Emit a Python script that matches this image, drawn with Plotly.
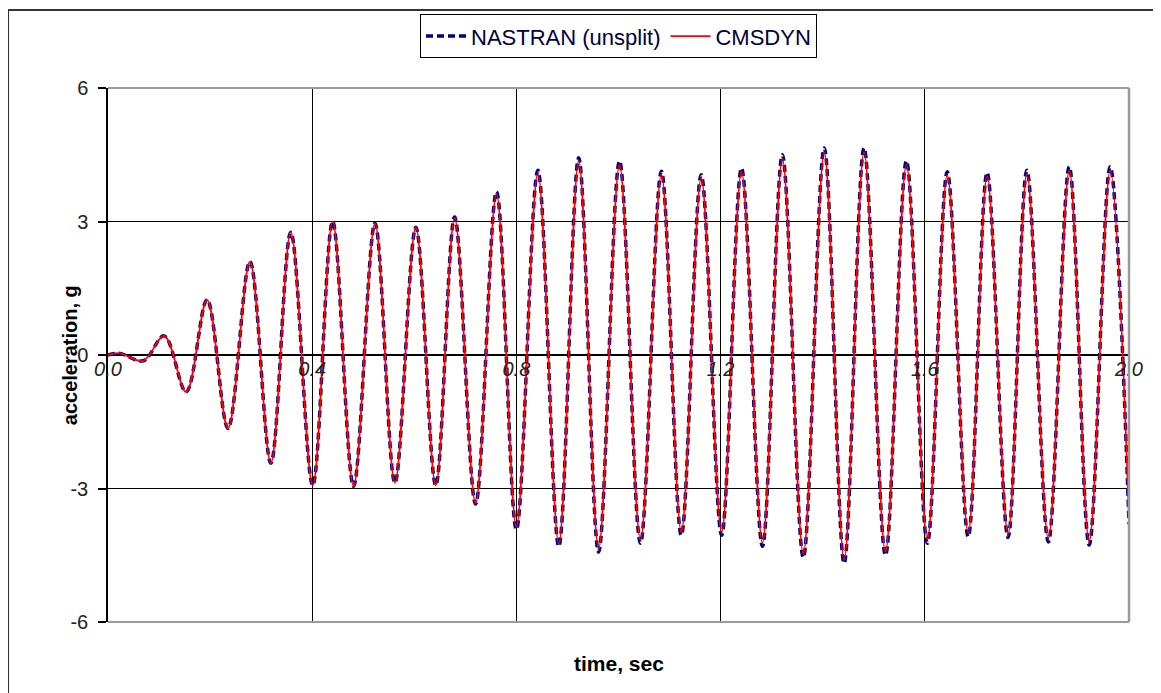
import plotly.graph_objects as go

# ---- data (extrema of the response) ----
time_s = [0.000, 0.022, 0.069, 0.110, 0.153, 0.194, 0.235, 0.278, 0.319, 0.358,
          0.401, 0.440, 0.481, 0.523, 0.562, 0.603, 0.642, 0.679, 0.720, 0.761,
          0.800, 0.842, 0.883, 0.922, 0.961, 1.002, 1.043, 1.084, 1.123, 1.162,
          1.202, 1.241, 1.282, 1.321, 1.362, 1.403, 1.442, 1.481, 1.523, 1.564,
          1.605, 1.644, 1.685, 1.722, 1.763, 1.800, 1.842, 1.883, 1.922, 1.963,
          2.000]

nastran_g = [0.00, 0.04, -0.13, 0.43, -0.83, 1.24, -1.65, 2.10, -2.43, 2.76,
             -2.93, 3.00, -2.95, 2.96, -2.87, 2.87, -2.93, 3.10, -3.35, 3.67,
             -3.92, 4.15, -4.30, 4.43, -4.43, 4.36, -4.23, 4.13, -4.05, 4.05,
             -4.05, 4.20, -4.30, 4.50, -4.55, 4.65, -4.68, 4.65, -4.50, 4.36,
             -4.23, 4.12, -4.08, 4.10, -4.10, 4.15, -4.20, 4.23, -4.27, 4.23,
             -3.80]

cmsdyn_g = [0.00, 0.04, -0.13, 0.43, -0.83, 1.24, -1.65, 2.10, -2.43, 2.76,
            -2.93, 3.00, -2.95, 2.96, -2.87, 2.87, -2.93, 3.08, -3.33, 3.62,
            -3.86, 4.08, -4.24, 4.36, -4.36, 4.28, -4.16, 4.06, -3.98, 3.98,
            -3.98, 4.12, -4.22, 4.42, -4.47, 4.56, -4.60, 4.56, -4.42, 4.28,
            -4.15, 4.04, -4.00, 4.02, -4.02, 4.07, -4.12, 4.14, -4.19, 4.14,
            -3.70]

x_ticks = [0.0, 0.4, 0.8, 1.2, 1.6, 2.0]
x_labels = ["0.0", "0.4", "0.8", "1.2", "1.6", "2.0"]
y_ticks = [-6, -3, 0, 3, 6]
y_labels = ["-6", "-3", "0", "3", "6"]

FONT = "Arial, 'Liberation Sans', sans-serif"

fig = go.Figure()
fig.add_trace(go.Scatter(
    x=time_s, y=nastran_g, name="NASTRAN (unsplit)", mode="lines",
    line=dict(color="#000080", width=3.5, dash="7px,4px", shape="spline", smoothing=1.0),
))
fig.add_trace(go.Scatter(
    x=time_s, y=cmsdyn_g, name="CMSDYN", mode="lines",
    line=dict(color="#ff0000", width=1.8, shape="spline", smoothing=1.0),
))

# The page body has an 8px margin; the figure is sized/placed to compensate.
fig.update_layout(
    width=1153, height=685,
    margin=dict(l=100, r=32, t=80, b=71, autoexpand=False),
    paper_bgcolor="white", plot_bgcolor="white",
    font=dict(family=FONT, size=20, color="#111111"),
    showlegend=True,
    legend=dict(orientation="h", x=0.5, xanchor="center", y=1.138, yanchor="top",
                bordercolor="black", borderwidth=1, bgcolor="white",
                font=dict(family=FONT, size=22, color="#000040"),
                itemwidth=40, tracegroupgap=0),
    xaxis=dict(range=[0, 2], tickvals=x_ticks,
               ticktext=["<i>%s</i>" % t for t in x_labels],
               showgrid=True, gridcolor="black", gridwidth=1,
               zeroline=False, showline=False, ticks="",
               anchor="free", position=0.5,
               tickfont=dict(family=FONT, size=20, color="#222222")),
    yaxis=dict(range=[-6, 6], tickvals=y_ticks, ticktext=y_labels,
               showgrid=True, gridcolor="black", gridwidth=1.2,
               zeroline=True, zerolinecolor="black", zerolinewidth=1.5,
               showline=True, linecolor="black", linewidth=1.5,
               ticks="outside", ticklen=8, tickcolor="black", tickwidth=1.5,
               ticklabelstandoff=6,
               tickfont=dict(family=FONT, size=20, color="#222222")),
    shapes=[
        # plot area frame (grey top/right/bottom)
        dict(type="line", xref="paper", yref="paper", x0=0, x1=1, y0=1, y1=1,
             line=dict(color="#9a9a9a", width=2), layer="above"),
        dict(type="line", xref="paper", yref="paper", x0=1, x1=1, y0=0, y1=1,
             line=dict(color="#9a9a9a", width=2.5), layer="above"),
        dict(type="line", xref="paper", yref="paper", x0=0, x1=1, y0=0, y1=0,
             line=dict(color="#9a9a9a", width=2), layer="above"),
        # outer chart border
        dict(type="line", xref="paper", yref="paper", x0=-0.0979, x1=1.0304,
             y0=1.146, y1=1.146, line=dict(color="#333333", width=2)),
        dict(type="line", xref="paper", yref="paper", x0=-0.0979, x1=-0.0979,
             y0=-0.2, y1=1.146, line=dict(color="#333333", width=2)),
        dict(type="line", xref="paper", yref="paper", x0=1.0304, x1=1.0304,
             y0=-0.2, y1=1.146, line=dict(color="#bbbbbb", width=1.5)),
    ],
    annotations=[
        dict(text="<b>acceleration, g</b>", xref="paper", yref="paper",
             x=-0.037, y=0.5, xanchor="center", yanchor="middle",
             textangle=-90, showarrow=False,
             font=dict(family=FONT, size=20, color="black")),
        dict(text="<b>time, sec</b>", xref="paper", yref="paper",
             x=0.5, y=-0.077, xanchor="center", yanchor="middle",
             showarrow=False, font=dict(family=FONT, size=21, color="black")),
    ],
)

fig.write_html("out.html")
